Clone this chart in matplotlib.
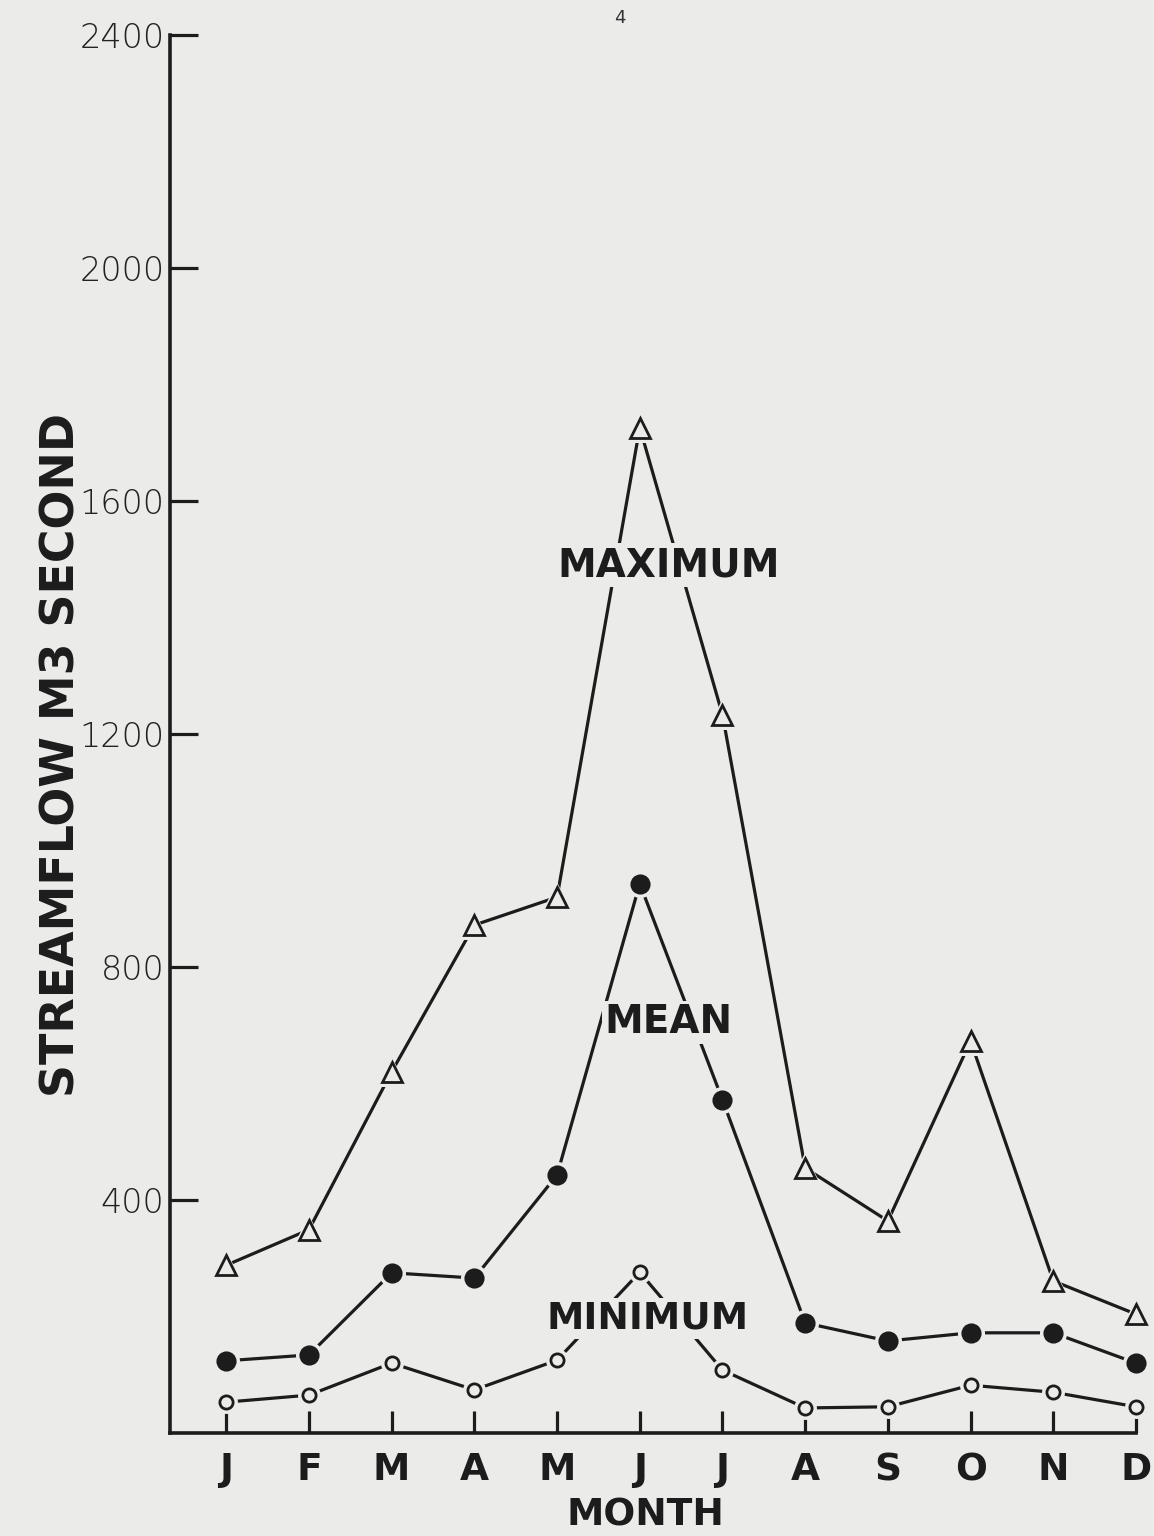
import matplotlib
matplotlib.use("Agg")
import matplotlib.pyplot as plt

# monthly streamflow, m3/second
months = ["J", "F", "M", "A", "M", "J", "J", "A", "S", "O", "N", "D"]
maximum = [288, 349, 620, 872, 920, 1726, 1233, 455, 364, 673, 261, 204]
mean = [124, 134, 275, 266, 443, 943, 572, 189, 158, 172, 172, 120]
minimum = [53, 65, 120, 74, 125, 276, 108, 43, 45, 82, 70, 45]
yticks = [400, 800, 1200, 1600, 2000, 2400]

paper = "#ebebea"
ink = "#1c1c1c"

fig = plt.figure(figsize=(11.54, 15.36), dpi=100, facecolor=paper)
ax = fig.add_axes([170 / 1154, 103 / 1536, 966 / 1154, 1398 / 1536])
ax.set_facecolor(paper)

x = list(range(len(months)))


def draw(values, marker, size, filled, halo):
    ax.plot(x, values, color=ink, lw=2.3, zorder=2, solid_capstyle="butt",
            clip_on=False)
    # paper coloured halo so the lines stop short of the symbols, as in the drawing
    ax.plot(x, values, ls="none", marker=marker, ms=size + halo, mfc=paper,
            mec=paper, mew=0, zorder=3, clip_on=False)
    ax.plot(x, values, ls="none", marker=marker, ms=size,
            mfc=ink if filled else paper, mec=ink, mew=2.0, zorder=4,
            clip_on=False)


draw(maximum, "^", 14, False, 7)
draw(mean, "o", 12.5, True, 7)
draw(minimum, "o", 9.5, False, 7)

ax.set_xlim(-0.68, 11)
ax.set_ylim(0, 2400)

for s in ["top", "right"]:
    ax.spines[s].set_visible(False)
for s in ["left", "bottom"]:
    ax.spines[s].set_linewidth(2.6)
    ax.spines[s].set_color(ink)

ax.set_xticks(x)
ax.set_xticklabels(months, fontsize=27, fontweight="bold", family="DejaVu Sans", color=ink)
ax.set_yticks(yticks)
ax.set_yticklabels([str(v) for v in yticks], fontsize=24, fontweight="light",
                   family="DejaVu Sans", color="#222222")
ax.tick_params(axis="x", direction="in", length=16, width=2.3, color=ink, pad=14)
ax.tick_params(axis="y", direction="in", length=20, width=2.3, color=ink, pad=4)

box = dict(facecolor=paper, edgecolor="none", pad=2)
ax.text(5.35, 1490, "MAXIMUM", fontsize=28, fontweight="bold", ha="center",
        va="center", color=ink, zorder=5, bbox=box)
ax.text(5.35, 705, "MEAN", fontsize=28, fontweight="bold", ha="center",
        va="center", color=ink, zorder=5, bbox=box)
ax.text(5.1, 197, "MINIMUM", fontsize=27, fontweight="bold", ha="center",
        va="center", color=ink, zorder=5, bbox=box)

fig.text(62 / 1154, 1 - 755 / 1536, "STREAMFLOW M3 SECOND", rotation=90,
         fontsize=33, fontweight="bold", ha="center", va="center", color=ink)
fig.text(645 / 1154, 1 - 1515 / 1536, "MONTH", fontsize=27, fontweight="bold",
         ha="center", va="center", color=ink)
fig.text(620 / 1154, 1 - 18 / 1536, "4", fontsize=13, ha="center", va="center",
         color="#333333")

fig.savefig("out.png", dpi=100, facecolor=paper)
